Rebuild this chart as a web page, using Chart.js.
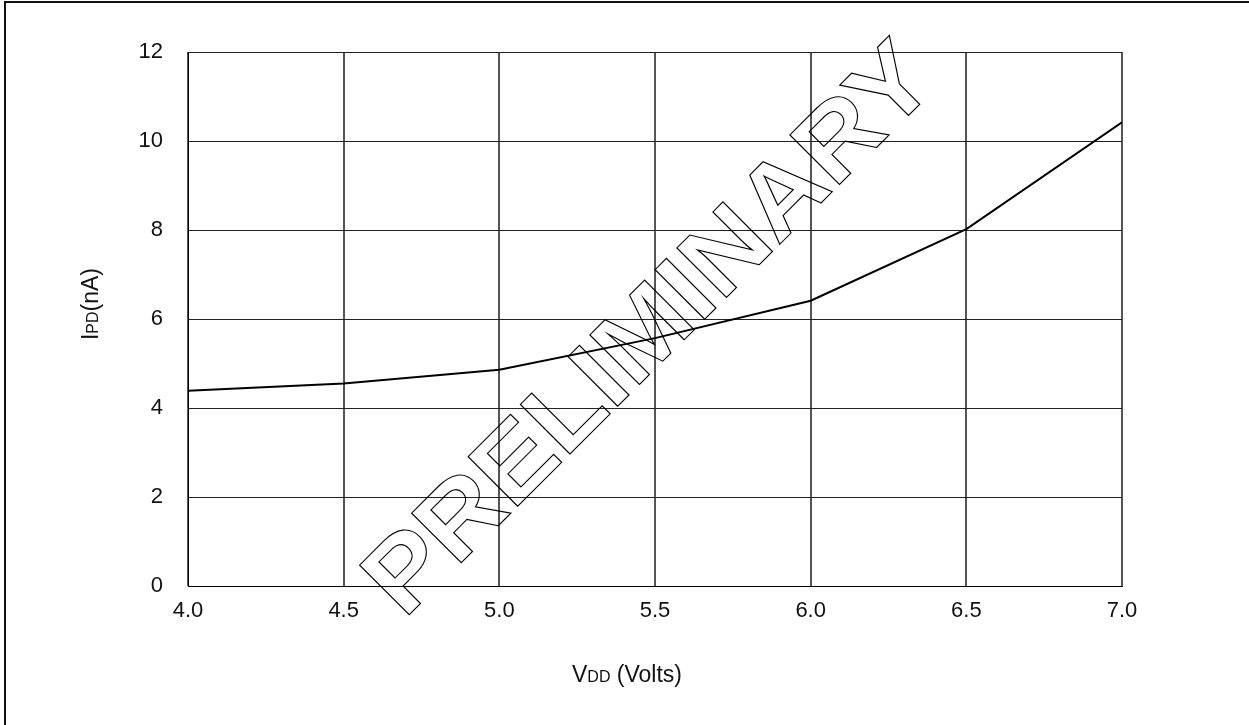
<!DOCTYPE html>
<html>
<head>
<meta charset="utf-8">
<title>IPD vs VDD</title>
<script src="https://cdn.jsdelivr.net/npm/chart.js@4/dist/chart.umd.min.js"></script>
<style>
  html, body { margin: 0; padding: 0; background: #fff; }
  #wrap { width: 1249px; height: 725px; }
</style>
</head>
<body>
<div id="wrap"><canvas id="chart" width="1249" height="725"></canvas></div>
<script>
// supply voltage (V) and power-down current (nA)
const vdd = [4.0, 4.5, 5.0, 5.5, 6.0, 6.5, 7.0];
const ipd = [4.39, 4.55, 4.86, 5.57, 6.41, 8.02, 10.42];

const xRange = [4.0, 7.0];
const yRange = [0, 12];

const FONT = '"Liberation Sans", Arial, sans-serif';

// draws text made of runs with different sizes (IPD, VDD subscripts)
function drawRuns(ctx, runs, cx, baseline) {
    let total = 0;
    runs.forEach(r => {
        ctx.font = r.size + 'px ' + FONT;
        r.w = ctx.measureText(r.text).width;
        total += r.w;
    });
    let x = cx - total / 2;
    ctx.textAlign = 'left';
    ctx.textBaseline = 'alphabetic';
    runs.forEach(r => {
        ctx.font = r.size + 'px ' + FONT;
        ctx.fillText(r.text, x, baseline);
        x += r.w;
    });
}

const decorations = {
    id: 'decorations',
    beforeDraw(chart) {
        const ctx = chart.ctx;
        // page frame (only top and left edges show)
        ctx.save();
        ctx.fillStyle = '#111';
        ctx.fillRect(4, 1, 2, chart.height);
        ctx.fillRect(4, 1, chart.width, 2);
        ctx.restore();
    },
    afterDraw(chart) {
        const ctx = chart.ctx;
        ctx.save();
        ctx.fillStyle = '#111';
        // axis titles
        drawRuns(ctx, [{text: 'V', size: 23}, {text: 'DD', size: 16}, {text: ' (Volts)', size: 23}], 627, 682);
        ctx.translate(98, 304);
        ctx.rotate(-Math.PI / 2);
        drawRuns(ctx, [{text: 'I', size: 23}, {text: 'PD', size: 16}, {text: '(nA)', size: 23}], 0, 0);
        ctx.restore();

        // PRELIMINARY watermark, outline only
        ctx.save();
        ctx.translate(672, 352);
        ctx.rotate(-Math.PI / 4);
        ctx.scale(1.085, 1);
        ctx.font = 'bold 102px ' + FONT;
        ctx.textAlign = 'center';
        ctx.textBaseline = 'alphabetic';
        ctx.lineWidth = 1.1;
        ctx.strokeStyle = '#000';
        ctx.strokeText('PRELIMINARY', 0, 0);
        ctx.restore();
    }
};

const ctx = document.getElementById('chart').getContext('2d');
new Chart(ctx, {
    type: 'line',
    data: {
        datasets: [{
            data: vdd.map((v, i) => ({x: v, y: ipd[i]})),
            borderColor: '#000',
            borderWidth: 2,
            pointRadius: 0,
            tension: 0,
            fill: false
        }]
    },
    options: {
        responsive: false,
        animation: false,
        devicePixelRatio: 1,
        layout: { padding: { left: 0, top: 52, right: 127, bottom: 0 } },
        plugins: {
            legend: { display: false },
            tooltip: { enabled: false }
        },
        scales: {
            x: {
                type: 'linear',
                min: xRange[0],
                max: xRange[1],
                afterFit: s => { s.height = 725 - 586; },
                ticks: {
                    stepSize: 0.5,
                    padding: 12,
                    color: '#111',
                    font: { family: FONT, size: 22 },
                    callback: v => v.toFixed(1)
                },
                grid: { color: '#555', lineWidth: 2, drawTicks: false },
                border: { color: '#000', width: 1 }
            },
            y: {
                min: yRange[0],
                max: yRange[1],
                afterFit: s => { s.width = 188; },
                ticks: {
                    stepSize: 2,
                    padding: 25,
                    color: '#111',
                    font: { family: FONT, size: 22 }
                },
                grid: { color: '#222', lineWidth: 1, drawTicks: false },
                border: { color: '#000', width: 1 }
            }
        }
    },
    plugins: [decorations]
});
</script>
</body>
</html>
